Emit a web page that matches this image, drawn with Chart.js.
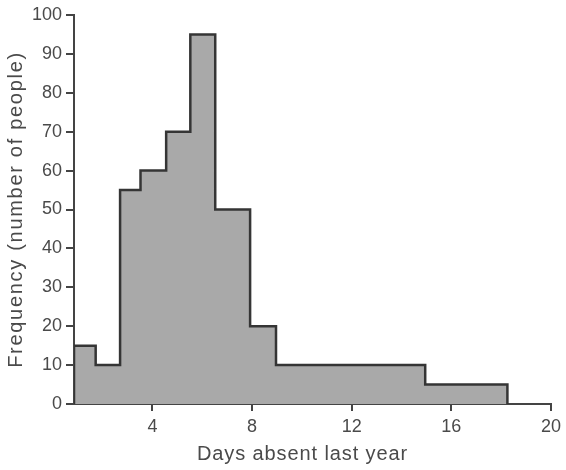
<!DOCTYPE html>
<html>
<head>
<meta charset="utf-8">
<script src="https://cdn.jsdelivr.net/npm/chart.js@4"></script>
<style>
html,body{margin:0;padding:0;background:#fff;}
#wrap{width:566px;height:470px;position:relative;}
</style>
</head>
<body>
<div id="wrap"><canvas id="c"></canvas></div>
<script>
// Bin edges (days absent) and frequencies per bin
const binEdges = [0.85, 1.72, 2.7, 3.52, 4.55, 5.52, 6.52, 7.92, 8.96, 14.95, 18.25];
const frequencies = [15, 10, 55, 60, 70, 95, 50, 20, 10, 5];
const xTicks = [4, 8, 12, 16, 20];
const yTicks = [0, 10, 20, 30, 40, 50, 60, 70, 80, 90, 100];
const xTitle = 'Days absent last year';
const yTitle = 'Frequency (number of people)';

// Build stepped outline points from the arrays: each bin's value sits on its left edge
const points = [{x: binEdges[0], y: 0}];
for (let i = 0; i < frequencies.length; i++) {
  points.push({x: binEdges[i], y: frequencies[i]});
}
points.push({x: binEdges[binEdges.length - 1], y: 0});

const textColor = '#4a4a4a';
const axisColor = '#444';
const tickFont = {family: '"Liberation Sans", Arial, Helvetica, sans-serif', size: 18};
const titleFont = {family: '"Liberation Sans", Arial, Helvetica, sans-serif', size: 20};

// Slight letter spacing / offset for axis titles (styling only)
const titleStyle = {
  id: 'titleStyle',
  beforeDraw(chart) {
    const cfg = {x: {spacing: '0.9px', dx: -10, dy: 0}, y: {spacing: '1.7px', dx: 0, dy: 0}};
    for (const id of ['x', 'y']) {
      const s = chart.scales[id];
      if (s._wrapped) continue;
      const orig = s.drawTitle;
      const c = cfg[id];
      s.drawTitle = function () {
        const ctx = this.ctx;
        ctx.save();
        ctx.letterSpacing = c.spacing;
        ctx.translate(c.dx, c.dy);
        orig.apply(this, arguments);
        ctx.restore();
      };
      s._wrapped = true;
    }
  }
};

new Chart(document.getElementById('c'), {
  type: 'line',
  data: {
    datasets: [{
      data: points,
      stepped: 'before',
      fill: 'origin',
      backgroundColor: '#a9a9a9',
      borderColor: '#353535',
      borderWidth: 2.5,
      pointRadius: 0,
      tension: 0
    }]
  },
  options: {
    responsive: true,
    maintainAspectRatio: false,
    animation: false,
    layout: {padding: {left: 0, right: 13, top: 15, bottom: 0}},
    plugins: {legend: {display: false}, tooltip: {enabled: false}},
    scales: {
      x: {
        type: 'linear',
        min: binEdges[0],
        max: 20,
        afterBuildTicks: (s) => { s.ticks = xTicks.map(v => ({value: v})); },
        afterFit: (s) => { s.height = 66; },
        grid: {drawOnChartArea: false, drawTicks: true, tickLength: 7, color: axisColor, lineWidth: 2},
        border: {display: true, color: axisColor, width: 2},
        ticks: {color: textColor, font: tickFont, padding: 5, maxRotation: 0, autoSkip: false},
        title: {display: true, text: xTitle, color: textColor, font: titleFont, padding: {top: 4}}
      },
      y: {
        type: 'linear',
        min: 0,
        max: 100,
        afterBuildTicks: (s) => { s.ticks = yTicks.map(v => ({value: v})); },
        afterFit: (s) => { s.width = 74; },
        grid: {drawOnChartArea: false, drawTicks: true, tickLength: 8, color: axisColor, lineWidth: 2},
        border: {display: true, color: axisColor, width: 2},
        ticks: {color: textColor, font: tickFont, padding: 4},
        title: {display: true, text: yTitle, color: textColor, font: titleFont, padding: {bottom: 2}}
      }
    }
  },
  plugins: [titleStyle]
});
</script>
</body>
</html>
